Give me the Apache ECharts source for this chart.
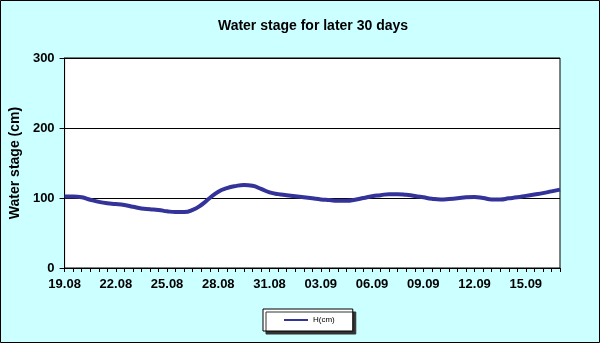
<!DOCTYPE html>
<html>
<head>
<meta charset="utf-8">
<script src="https://cdn.jsdelivr.net/npm/echarts@6/dist/echarts.min.js"></script>
<style>
html,body{margin:0;padding:0;background:#CCFFFF;}
#c{width:600px;height:343px;}
</style>
</head>
<body>
<div id="c"></div>
<script>
// Days shown on the axis (data are every half day)
const days = ['19.08','20.08','21.08','22.08','23.08','24.08','25.08','26.08','27.08','28.08',
  '29.08','30.08','31.08','01.09','02.09','03.09','04.09','05.09','06.09','07.09',
  '08.09','09.09','10.09','11.09','12.09','13.09','14.09','15.09','16.09','17.09'];
// Water stage H (cm), half-day steps starting 19.08 00h
const hValues = [102,102,101,97.5,94.5,92.5,91.5,90,87.5,85,
  84,83,81,80,80,83,90,100,109,114,
  117,118.5,117.5,113,108,105.5,104,102.5,101,99.5,
  98,97,96,96,97.5,100,102.5,104,105.5,105.5,
  104.5,103,101,99,98,98.5,99.5,101,101.5,100,
  98,98,99.5,101,103,105,107,109.5,112];
const yTicks = [0,100,200,300];

const categories = [];
for (let i = 0; i < days.length; i++) {
  categories.push(days[i]);
  if (i < days.length - 1) categories.push(days[i] + ' 12h');
}

const FONT = 'Arial, "Liberation Sans", sans-serif';
const chart = echarts.init(document.getElementById('c'), null, {renderer:'canvas'});
chart.setOption({
  backgroundColor:'#CCFFFF',
  animation:false,
  title:{text:'Water stage for later 30 days',left:308,top:14,textAlign:'center',
    textStyle:{fontFamily:FONT,fontSize:14,fontWeight:'bold',color:'#000'}},
  grid:{left:63,right:40,top:58,bottom:75,show:true,backgroundColor:'#fff',borderColor:'#000',borderWidth:1},
  legend:{left:263,top:309,data:['H(cm)'],icon:'rect',itemWidth:24,itemHeight:2,
    padding:[7,18,7,21],backgroundColor:'#fff',borderColor:'#000',borderWidth:1,borderRadius:0,
    shadowColor:'#333',shadowOffsetX:3,shadowOffsetY:3,shadowBlur:0,
    textStyle:{fontFamily:FONT,fontSize:8,color:'#000'}},
  xAxis:{type:'category',data:categories,boundaryGap:false,
    axisLine:{lineStyle:{color:'#000',width:1}},
    axisTick:{interval:0,length:4,inside:false,lineStyle:{color:'#000'}},
    axisLabel:{interval:5,margin:10,color:'#000',fontFamily:FONT,fontSize:13,fontWeight:'bold',
      formatter:v=>v.split(' ')[0]},
    splitLine:{show:false}},
  yAxis:{type:'value',min:yTicks[0],max:yTicks[yTicks.length-1],interval:100,
    name:'Water stage (cm)',nameLocation:'middle',nameGap:39,nameRotate:90,
    nameTextStyle:{fontFamily:FONT,fontSize:14,fontWeight:'bold',color:'#000'},
    axisLine:{show:true,lineStyle:{color:'#000'}},
    axisTick:{show:true,length:5,lineStyle:{color:'#000'}},
    axisLabel:{margin:10,color:'#000',fontFamily:FONT,fontSize:13,fontWeight:'bold'},
    splitLine:{show:true,lineStyle:{color:'#000',width:1}}},
  series:[{name:'H(cm)',type:'line',data:hValues,smooth:0.5,symbol:'none',
    lineStyle:{color:'#333399',width:4},itemStyle:{color:'#333399'}}],
  graphic:[{type:'rect',shape:{x:0.5,y:0.5,width:599,height:342},
    style:{fill:null,stroke:'#000',lineWidth:1},silent:true,z:100}]
});
</script>
</body>
</html>
